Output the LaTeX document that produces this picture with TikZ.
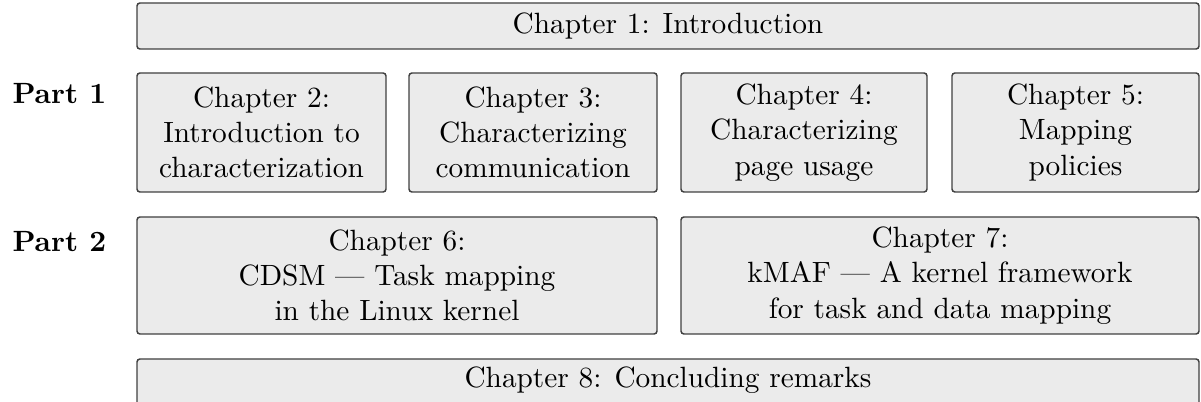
\documentclass[tikz,border=0pt]{standalone}
\begin{document}
\def\s{0.341pt}
\begin{tikzpicture}[x=0.341pt, y=-0.341pt,
  chap/.style={draw=black!75, fill=black!8, rounded corners=1pt, line width=0.5pt,
    align=center, inner sep=0pt},
  partlabel/.style={anchor=base west, font=\bfseries, inner sep=0pt}]
\useasboundingbox (0,0) rectangle (1201,402);
\clip (0,0) rectangle (1201,402);
\node[chap, minimum width={1062*\s}, minimum height={46*\s}] (c1) at (668,26) {Chapter 1: Introduction};
\node[chap, minimum width={249*\s}, minimum height={119*\s}] (c2) at (261.5,132.5) {Chapter 2:\\Introduction to\\characterization};
\node[chap, minimum width={248*\s}, minimum height={119*\s}] (c3) at (533,132.5) {Chapter 3:\\Characterizing\\communication};
\node[chap, minimum width={246*\s}, minimum height={119*\s}] (c4) at (804,132.5) {Chapter 4:\\Characterizing\\page usage};
\node[chap, minimum width={247*\s}, minimum height={119*\s}] (c5) at (1075.5,132.5) {Chapter 5:\\Mapping\\policies};
\node[chap, minimum width={520*\s}, minimum height={117*\s}] (c6) at (397,275.5) {Chapter 6:\\CDSM --- Task mapping\\in the Linux kernel};
\node[chap, minimum width={518*\s}, minimum height={117*\s}] (c7) at (940,275.5) {Chapter 7:\\kMAF --- A kernel framework\\for task and data mapping};
\node[chap, minimum width={1062*\s}, minimum height={60*\s}] (c8) at (668,389) {};
\node[inner sep=0pt] (c8t) at (668,380) {Chapter 8: Concluding remarks};
\node[partlabel] (p1) at (12,104) {Part 1};
\node[partlabel] (p2) at (12,252) {Part 2};
\end{tikzpicture}
\end{document}
